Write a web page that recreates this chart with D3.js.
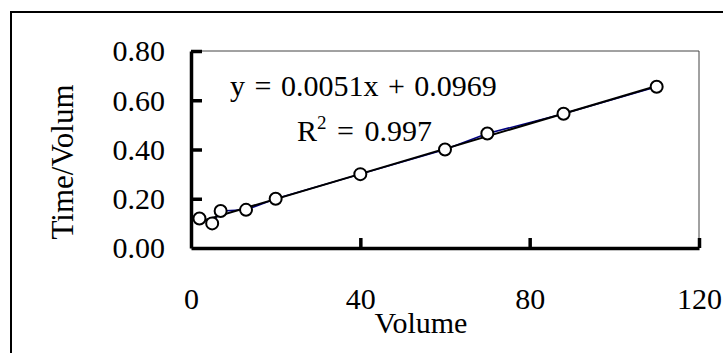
<!doctype html>
<html lang="en">
  <head>
    <meta charset="utf-8">
    <script src="https://d3js.org/d3.v7.min.js"></script>
    <style>
      body { margin: 0; background: #fff; }
      text { font-family: "Liberation Serif", "Times New Roman", serif; fill: #000; }
    </style>
  </head>
  <body>
    <div id="holder"></div>
  </body>
  <script>
      // data
      const volume = [2, 5, 7, 13, 20, 40, 60, 70, 88, 110];
      const timePerVolume = [0.12, 0.10, 0.15, 0.155, 0.20, 0.30, 0.40, 0.465, 0.545, 0.655];
      const xTicks = [0, 40, 80, 120];
      const yTicks = [0, 0.2, 0.4, 0.6, 0.8];
      const slope = 0.0051;
      const intercept = 0.0969;
      const equationLabel = 'y = 0.0051x + 0.0969';
      const rSquared = '0.997';

      const w = 723, h = 353;
      const plot = { left: 191, right: 699, top: 51, bottom: 248 };

      const svg = d3.select('#holder')
          .append('svg')
          .attr('width', w)
          .attr('height', h);

      // outer chart frame (runs off the right and bottom)
      svg.append('rect')
          .attr('x', 11)
          .attr('y', 12)
          .attr('width', 800)
          .attr('height', 500)
          .attr('fill', 'none')
          .attr('stroke', '#000')
          .attr('stroke-width', 2);

      const x = d3.scaleLinear()
          .domain([0, 120])
          .range([plot.left, plot.right]);
      const y = d3.scaleLinear()
          .domain([0, 0.8])
          .range([plot.bottom, plot.top]);

      // thin plot border, top and right
      svg.append('path')
          .attr('d', 'M' + plot.left + ',' + plot.top + 'H' + plot.right + 'V' + plot.bottom)
          .attr('fill', 'none')
          .attr('stroke', '#444')
          .attr('stroke-width', 1);

      // axes with inside ticks
      const xAxis = d3.axisBottom(x)
          .tickValues(xTicks)
          .tickSizeInner(-10)
          .tickSizeOuter(0)
          .tickPadding(0)
          .tickFormat(d3.format('d'));
      const yAxis = d3.axisLeft(y)
          .tickValues(yTicks)
          .tickSizeInner(-11)
          .tickSizeOuter(0)
          .tickFormat(d3.format('.2f'));

      const gx = svg.append('g')
          .attr('transform', 'translate(0,' + plot.bottom + ')')
          .call(xAxis);
      const gy = svg.append('g')
          .attr('transform', 'translate(' + plot.left + ',0)')
          .call(yAxis);

      [gx, gy].forEach(function(g) {
          g.select('.domain').attr('stroke', '#000').attr('stroke-width', 3.5);
          g.selectAll('.tick line').attr('stroke', '#000').attr('stroke-width', 3.5);
          g.selectAll('.tick text')
              .style('font-family', '"Liberation Serif", serif')
              .style('font-size', '30px')
              .attr('fill', '#000');
      });
      gx.selectAll('.tick text').attr('y', 0).attr('dy', '61px').attr('text-anchor', 'middle');
      gx.selectAll('.tick line').filter(function(d) { return d === 0; }).remove();
      gy.selectAll('.tick text').attr('x', -26).attr('dy', '0.33em');
      gy.selectAll('.tick line').filter(function(d) { return d === 0; }).remove();

      // series line (navy) behind trendline
      const line = d3.line()
          .x(function(d) { return x(d[0]); })
          .y(function(d) { return y(d[1]); });
      const points = volume.map(function(v, i) { return [v, timePerVolume[i]]; });

      svg.append('path')
          .datum(points)
          .attr('d', line)
          .attr('fill', 'none')
          .attr('stroke', '#000080')
          .attr('stroke-width', 1.5);

      // linear trendline
      const xMin = d3.min(volume), xMax = d3.max(volume);
      svg.append('path')
          .datum([[xMin, slope * xMin + intercept], [xMax, slope * xMax + intercept]])
          .attr('d', line)
          .attr('fill', 'none')
          .attr('stroke', '#000')
          .attr('stroke-width', 2);

      svg.selectAll('circle')
          .data(points)
          .enter()
          .append('circle')
          .attr('cx', function(d) { return x(d[0]); })
          .attr('cy', function(d) { return y(d[1]); })
          .attr('r', 6)
          .attr('fill', '#fff')
          .attr('stroke', '#000')
          .attr('stroke-width', 2);

      // trendline labels
      svg.append('text')
          .text(equationLabel)
          .attr('x', 230)
          .attr('y', 96)
          .style('font-size', '30px')
          .style('word-spacing', '2px');

      const r2 = svg.append('text')
          .attr('x', 297)
          .attr('y', 141)
          .style('font-size', '30px')
          .style('word-spacing', '3px');
      r2.append('tspan').text('R');
      r2.append('tspan').text('2').attr('dy', -12).style('font-size', '19px');
      r2.append('tspan').text(' = ' + rSquared).attr('dy', 12);

      // axis titles
      svg.append('text')
          .text('Volume')
          .attr('x', 421)
          .attr('y', 333)
          .attr('text-anchor', 'middle')
          .style('font-size', '30px');

      svg.append('text')
          .text('Time/Volum')
          .attr('transform', 'translate(73,162) rotate(-90)')
          .attr('text-anchor', 'middle')
          .style('font-size', '31px');
  </script>
</html>
